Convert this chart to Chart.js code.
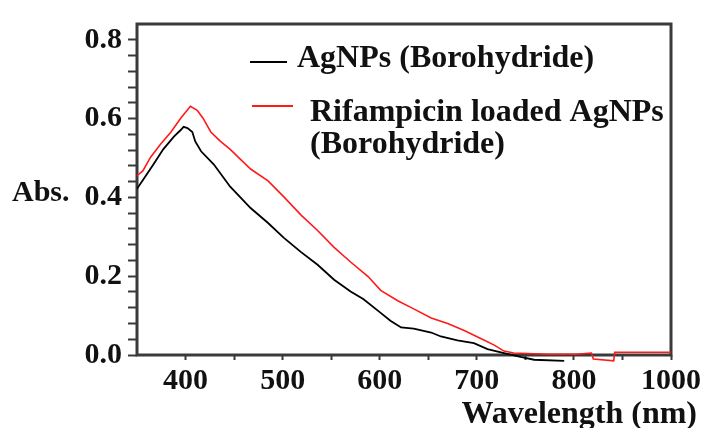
<!DOCTYPE html>
<html>
<head>
<meta charset="utf-8">
<script src="https://cdn.jsdelivr.net/npm/chart.js@4/dist/chart.umd.min.js"></script>
<style>
  html, body { margin: 0; padding: 0; background: #fff; }
</style>
</head>
<body>
<canvas id="uv" width="705" height="428"></canvas>
<script>
// series names as shown in the legend (second one wraps on two lines)
const seriesNames = ['AgNPs (Borohydride)', ['Rifampicin loaded AgNPs', '(Borohydride)']];

// AgNPs (Borohydride) - black
const agWavelength = [350, 357, 367, 377, 388, 395, 398, 402, 407, 410, 416, 429, 446, 467, 485, 501, 519, 536, 553, 570, 583, 601, 611, 622, 635, 653, 663, 680, 697, 711, 728, 745, 759, 790];
const agAbs = [0.422, 0.447, 0.484, 0.522, 0.554, 0.571, 0.579, 0.576, 0.566, 0.542, 0.517, 0.484, 0.427, 0.373, 0.335, 0.298, 0.261, 0.229, 0.191, 0.161, 0.142, 0.107, 0.087, 0.070, 0.067, 0.057, 0.047, 0.037, 0.030, 0.015, 0.005, -0.005, -0.012, -0.015];

// Rifampicin loaded AgNPs (Borohydride) - red
const rifWavelength = [350, 356, 364, 374, 385, 395, 405, 412, 418, 426, 436, 446, 467, 485, 501, 519, 536, 553, 570, 588, 601, 619, 635, 653, 670, 687, 704, 718, 728, 738, 773, 802, 818, 820, 841, 842, 900];
const rifAbs = [0.455, 0.467, 0.502, 0.534, 0.566, 0.601, 0.631, 0.621, 0.601, 0.566, 0.542, 0.522, 0.472, 0.442, 0.402, 0.355, 0.316, 0.273, 0.236, 0.199, 0.164, 0.137, 0.117, 0.094, 0.080, 0.062, 0.042, 0.025, 0.010, 0.005, 0.002, 0.002, 0.005, -0.010, -0.015, 0.007, 0.007];

// x ticks every 50 nm, labels as printed on the original (last one reads 1000)
const xTickValues = [400, 450, 500, 550, 600, 650, 700, 750, 800, 850, 900];
const xTickLabels = ['400', '', '500', '', '600', '', '700', '', '800', '', '1000'];

// y ticks
const yTickValues = [0, 0.2, 0.4, 0.6, 0.8];
const yTickLabels = ['0.0', '0.2', '0.4', '0.6', '0.8'];
const yMinorStep = 0.04;

const axisColor = '#3a3a3a';
const serif = "'Liberation Serif', 'Times New Roman', serif";

function toPoints(xs, ys) {
    return xs.map((x, i) => ({x: x, y: ys[i]}));
}

function labelFor(values, labels, v) {
    for (let i = 0; i < values.length; i++) {
        if (Math.abs(values[i] - v) < 1e-6) return labels[i];
    }
    return '';
}

// frame, legend and axis titles
const decor = {
    id: 'decor',
    beforeDatasetsDraw(chart) {
        const a = chart.chartArea;
        const ctx = chart.ctx;
        ctx.save();
        ctx.strokeStyle = axisColor;
        ctx.lineWidth = 3;
        ctx.strokeRect(a.left, a.top, a.right - a.left, a.bottom - a.top);
        ctx.restore();
    },
    afterDraw(chart) {
        const ctx = chart.ctx;
        ctx.save();
        ctx.fillStyle = '#111';
        ctx.font = 'bold 32px ' + serif;
        ctx.textBaseline = 'alphabetic';
        ctx.textAlign = 'left';

        // legend
        ctx.lineWidth = 1.8;
        ctx.strokeStyle = '#000';
        ctx.beginPath(); ctx.moveTo(250, 62); ctx.lineTo(287, 62); ctx.stroke();
        ctx.fillText(seriesNames[0], 297, 67);

        ctx.strokeStyle = '#ff1a1a';
        ctx.beginPath(); ctx.moveTo(252, 106); ctx.lineTo(293, 106); ctx.stroke();
        ctx.fillText(seriesNames[1][0], 310, 121);
        ctx.fillText(seriesNames[1][1], 310, 153);

        // axis titles
        ctx.textAlign = 'right';
        ctx.fillText('Wavelength (nm)', 697, 423);
        ctx.textAlign = 'left';
        ctx.font = 'bold 30px ' + serif;
        ctx.fillText('Abs.', 12, 201);
        ctx.restore();
    }
};

new Chart(document.getElementById('uv'), {
    type: 'line',
    data: {
        datasets: [{
            label: seriesNames[0],
            data: toPoints(agWavelength, agAbs),
            borderColor: '#000',
            borderWidth: 1.8,
            clip: {left: 0, top: 0, right: 0, bottom: 12}
        },
        {
            label: seriesNames[1].join(' '),
            data: toPoints(rifWavelength, rifAbs),
            borderColor: '#ff1a1a',
            borderWidth: 1.6,
            clip: {left: 0, top: 0, right: 0, bottom: 12}
        }]
    },
    options: {
        responsive: false,
        animation: false,
        events: [],
        layout: {
            padding: {left: 0, top: 17, right: 34, bottom: 0}
        },
        elements: {
            point: { radius: 0 },
            line: { tension: 0 }
        },
        plugins: {
            legend: { display: false },
            tooltip: { enabled: false }
        },
        scales: {
            x: {
                type: 'linear',
                min: 350,
                max: 900,
                afterBuildTicks: scale => {
                    scale.ticks = xTickValues.map(v => ({value: v}));
                },
                afterFit: scale => { scale.height = 73; },
                border: { display: false },
                grid: {
                    drawOnChartArea: false,
                    drawTicks: true,
                    tickLength: 5,
                    tickWidth: 2,
                    tickColor: axisColor
                },
                ticks: {
                    autoSkip: false,
                    maxRotation: 0,
                    padding: 3,
                    color: '#111',
                    font: { family: serif, size: 30, weight: 'bold' },
                    callback: v => labelFor(xTickValues, xTickLabels, v)
                }
            },
            y: {
                min: 0,
                max: 0.84,
                afterBuildTicks: scale => {
                    const t = [];
                    for (let i = 0; i <= 20; i++) t.push({value: +(i * yMinorStep).toFixed(2)});
                    scale.ticks = t;
                },
                afterFit: scale => { scale.width = 137; },
                border: { display: false },
                grid: {
                    drawOnChartArea: false,
                    drawTicks: true,
                    tickLength: 9,
                    tickWidth: 2,
                    tickColor: axisColor
                },
                ticks: {
                    autoSkip: false,
                    padding: 6,
                    color: '#111',
                    font: { family: serif, size: 30, weight: 'bold' },
                    callback: v => labelFor(yTickValues, yTickLabels, v)
                }
            }
        }
    },
    plugins: [decor]
});
</script>
</body>
</html>
